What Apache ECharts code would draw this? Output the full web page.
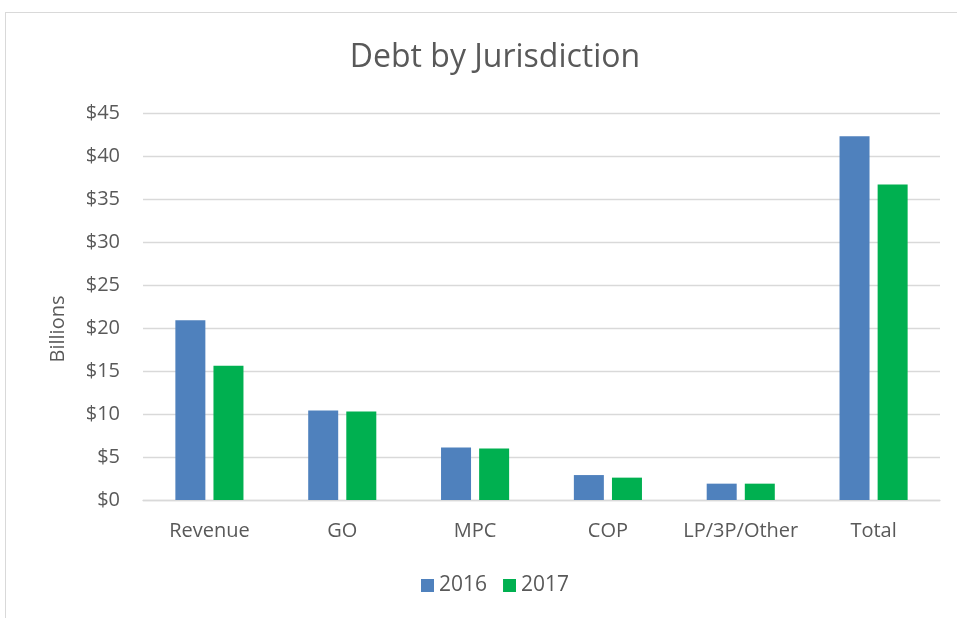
<!DOCTYPE html>
<html>
<head>
<meta charset="utf-8">
<script src="https://cdn.jsdelivr.net/npm/echarts@6/dist/echarts.min.js"></script>
<style>
  html, body { margin: 0; padding: 0; background: #fff; }
  #frame { position: absolute; left: 5px; top: 12px; width: 960px; height: 620px;
           border-top: 1px solid #d9d9d9; border-left: 1px solid #d9d9d9; }
  #chart { position: absolute; left: 0; top: 0; width: 957px; height: 618px; }
</style>
</head>
<body>
<div id="frame"></div>
<div id="chart"></div>
<script>
const categories = ["Revenue", "GO", "MPC", "COP", "LP/3P/Other", "Total"];
const values2016 = [20.9, 10.4, 6.1, 2.9, 1.9, 42.3];
const values2017 = [15.6, 10.3, 6.0, 2.6, 1.9, 36.7];
const seriesNames = ["2016", "2017"];

const textColor = "#595959";
const font = "Open Sans";

const chart = echarts.init(document.getElementById("chart"));
chart.setOption({
  animation: false,
  color: ["#4f81bd", "#00b050"],
  title: {
    text: "Debt by Jurisdiction",
    left: 490,
    top: 37,
    textAlign: "center",
    textStyle: { color: textColor, fontFamily: font, fontWeight: "normal", fontSize: 32 }
  },
  legend: {
    data: seriesNames,
    top: 570,
    left: 416,
    itemWidth: 13,
    itemHeight: 13,
    itemGap: 16,
    icon: "rect",
    textStyle: { color: textColor, fontFamily: font, fontSize: 21 }
  },
  graphic: [{
    type: "text",
    x: 58,
    y: 329,
    rotation: Math.PI / 2,
    style: {
      text: "Billions",
      fill: textColor,
      font: "20px 'Open Sans'",
      textAlign: "center",
      textVerticalAlign: "middle"
    }
  }],
  grid: { left: 143, right: 17, top: 113, bottom: 118 },
  xAxis: {
    type: "category",
    data: categories,
    axisLine: { lineStyle: { color: "#d9d9d9", width: 1.3 } },
    axisTick: { show: false },
    axisLabel: { interval: 0, color: textColor, fontFamily: font, fontSize: 20, margin: 21 }
  },
  yAxis: {
    type: "value",
    min: 0,
    max: 45,
    interval: 5,
    axisLine: { show: false },
    axisTick: { show: false },
    axisLabel: { color: textColor, fontFamily: font, fontSize: 20, margin: 23,
                 formatter: v => "$" + v },
    splitLine: { lineStyle: { color: "#d9d9d9", width: 1.3 } }
  },
  series: [
    { name: seriesNames[0], type: "bar", data: values2016, barWidth: 30, barGap: "27%" },
    { name: seriesNames[1], type: "bar", data: values2017, barWidth: 30, barGap: "27%" }
  ]
});
</script>
</body>
</html>
